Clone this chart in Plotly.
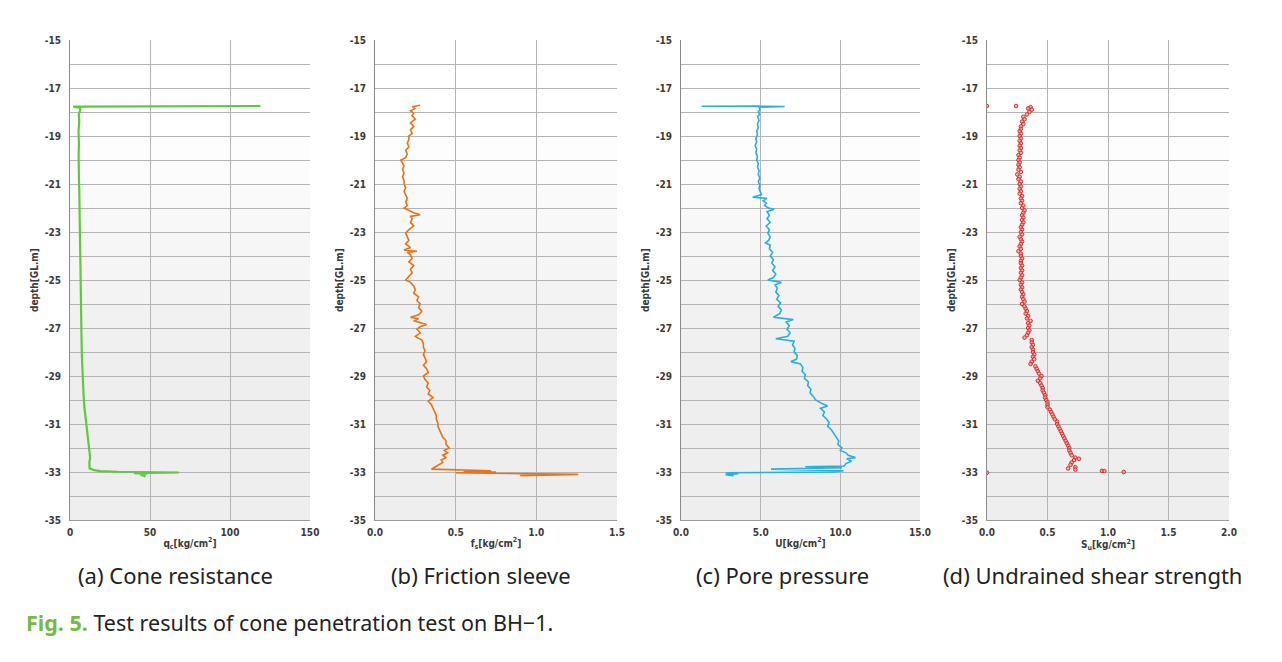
import plotly.graph_objects as go

# ---------------- data ----------------
depth_ticks = [-15, -17, -19, -21, -23, -25, -27, -29, -31, -33, -35]
depth_ticktext = ["-15", "-17", "-19", "-21", "-23", "-25", "-27", "-29", "-31", "-33", "-35"]

qc_depth = [-17.75, -17.75, -17.78, -17.82, -17.9, -18.1, -18.4, -18.8, -19.3, -19.8,
            -20.3, -20.8, -21.3, -21.8, -22.3, -22.8, -23.3, -23.8, -24.3, -24.8,
            -25.3, -25.8, -26.3, -26.8, -27.3, -27.8, -28.3, -28.8, -29.3, -29.8,
            -30.3, -30.8, -31.3, -31.8, -32.2, -32.4, -32.6, -32.85, -32.92, -32.96,
            -32.99, -33.02, -33.05, -33.08, -33.12, -33.16, -33.2]
qc_vals = [119, 60, 2, 6, 6.5, 5.5, 5.8, 5.3, 5.6, 5.4,
           5.7, 5.6, 5.8, 5.9, 6.0, 6.1, 6.0, 6.2, 6.3, 6.4,
           6.5, 6.6, 6.8, 6.9, 7.1, 7.3, 7.5, 7.7, 8.0, 8.5,
           9.0, 9.8, 10.6, 11.4, 12.0, 12.6, 12.1, 12.2, 15, 19,
           30, 68, 40, 48, 44, 47, 46]

fs_depth = [-17.72, -17.78, -17.85, -17.95, -18.05, -18.15, -18.3, -18.45, -18.6, -18.75,
            -18.9, -19.0, -19.15, -19.3, -19.45, -19.6, -19.75, -19.9, -20.0, -20.1,
            -20.25, -20.4, -20.55, -20.7, -20.85, -21.0, -21.15, -21.3, -21.45, -21.6,
            -21.75, -21.9, -22.0, -22.1, -22.2, -22.28, -22.35, -22.45, -22.6, -22.75,
            -22.9, -23.05, -23.2, -23.35, -23.5, -23.65, -23.75, -23.8, -23.85, -23.95,
            -24.1, -24.25, -24.4, -24.55, -24.7, -24.85, -25.0, -25.1, -25.25, -25.4,
            -25.55, -25.7, -25.85, -26.0, -26.15, -26.3, -26.45, -26.55, -26.62, -26.7,
            -26.78, -26.85, -26.95, -27.05, -27.2, -27.35, -27.5, -27.65, -27.8, -27.95,
            -28.1, -28.25, -28.4, -28.55, -28.7, -28.85, -29.0, -29.15, -29.3, -29.45,
            -29.6, -29.75, -29.9, -30.05, -30.2, -30.35, -30.5, -30.65, -30.8, -30.95,
            -31.1, -31.25, -31.4, -31.55, -31.7, -31.85, -32.0, -32.1, -32.2, -32.3,
            -32.4, -32.5, -32.6, -32.7, -32.8, -32.88, -32.95, -32.98, -33.0, -33.03,
            -33.1, -33.15]
fs_vals = [0.28, 0.23, 0.25, 0.22, 0.24, 0.23, 0.25, 0.22, 0.24, 0.22,
           0.23, 0.21, 0.21, 0.20, 0.21, 0.19, 0.20, 0.19, 0.16, 0.17,
           0.18, 0.17, 0.18, 0.17, 0.18, 0.18, 0.19, 0.18, 0.19, 0.20,
           0.19, 0.20, 0.18, 0.21, 0.24, 0.28, 0.22, 0.23, 0.22, 0.24,
           0.21, 0.19, 0.20, 0.21, 0.19, 0.22, 0.18, 0.26, 0.20, 0.22,
           0.23, 0.21, 0.24, 0.22, 0.23, 0.21, 0.19, 0.22, 0.24, 0.25,
           0.24, 0.27, 0.26, 0.28, 0.27, 0.29, 0.27, 0.22, 0.27, 0.24,
           0.29, 0.32, 0.28, 0.26, 0.28, 0.25, 0.29, 0.30, 0.30, 0.31,
           0.30, 0.31, 0.32, 0.30, 0.32, 0.33, 0.30, 0.31, 0.33, 0.32,
           0.34, 0.33, 0.36, 0.33, 0.35, 0.36, 0.37, 0.38, 0.38, 0.39,
           0.39, 0.40, 0.41, 0.42, 0.44, 0.44, 0.46, 0.43, 0.45, 0.42,
           0.44, 0.41, 0.42, 0.39, 0.37, 0.35, 0.72, 0.55, 0.75, 0.50,
           1.26, 0.90]

u_depth = [-17.75, -17.76, -17.77, -17.8, -17.9, -18.0, -18.1, -18.2, -18.35, -18.5,
           -18.65, -18.8, -18.95, -19.1, -19.25, -19.4, -19.55, -19.7, -19.85, -20.0,
           -20.15, -20.3, -20.45, -20.6, -20.75, -20.9, -21.05, -21.2, -21.35, -21.45,
           -21.55, -21.6, -21.7, -21.8, -21.9, -22.0, -22.05, -22.15, -22.3, -22.45,
           -22.6, -22.75, -22.9, -23.05, -23.2, -23.35, -23.45, -23.55, -23.7, -23.85,
           -24.0, -24.15, -24.3, -24.45, -24.6, -24.75, -24.9, -25.0, -25.1, -25.2,
           -25.35, -25.5, -25.65, -25.8, -25.95, -26.1, -26.25, -26.4, -26.55, -26.65,
           -26.75, -26.9, -27.05, -27.2, -27.35, -27.45, -27.55, -27.7, -27.85, -28.0,
           -28.15, -28.3, -28.4, -28.5, -28.65, -28.8, -28.95, -29.1, -29.25, -29.4,
           -29.55, -29.7, -29.85, -30.0, -30.15, -30.25, -30.35, -30.5, -30.65, -30.8,
           -30.95, -31.1, -31.25, -31.4, -31.55, -31.7, -31.85, -32.0, -32.1, -32.2,
           -32.3, -32.4, -32.45, -32.55, -32.65, -32.75, -32.78, -32.82, -32.88, -32.95,
           -33.0, -33.03, -33.07, -33.11, -33.15]
u_vals = [4.95, 1.3, 6.5, 4.9, 4.95, 4.85, 4.95, 4.8, 4.9, 4.8,
          4.85, 4.75, 4.8, 4.7, 4.75, 4.65, 4.75, 4.7, 4.8, 4.75,
          4.85, 4.8, 4.9, 4.85, 4.95, 4.85, 4.95, 4.9, 5.0, 5.05,
          4.5, 5.4, 5.15, 5.35, 5.25, 5.5, 5.85, 5.4, 5.55, 5.4,
          5.6, 5.35, 5.55, 5.45, 5.6, 5.5, 5.3, 5.6, 5.55, 5.75,
          5.6, 5.8, 5.7, 5.9, 5.75, 5.95, 5.8, 5.45, 6.3, 5.9,
          6.05, 5.95, 6.15, 6.0, 6.25, 6.1, 6.3, 6.2, 5.8, 7.05,
          6.6, 6.8, 6.65, 6.85, 6.7, 5.95, 7.1, 7.0, 7.15, 7.1,
          7.3, 7.25, 6.9, 7.5, 7.65, 7.6, 7.8, 7.75, 8.0, 7.95,
          8.15, 8.1, 8.3, 8.45, 8.85, 9.2, 8.75, 9.0, 8.9, 9.15,
          9.3, 9.2, 9.45, 9.6, 9.75, 9.9, 9.85, 10.1, 10.0, 10.35,
          10.5, 10.95, 10.4, 10.7, 10.35, 10.25, 7.8, 10.1, 5.65, 10.2,
          9.6, 2.8, 3.6, 2.8, 3.3]

su_depth = [-17.75, -17.75, -17.8, -17.85, -17.9, -18.0, -18.1, -18.2, -18.3, -18.4,
            -18.5, -18.6, -18.7, -18.8, -18.9, -19.0, -19.1, -19.2, -19.3, -19.4,
            -19.5, -19.6, -19.7, -19.8, -19.9, -20.0, -20.1, -20.2, -20.3, -20.4,
            -20.5, -20.6, -20.7, -20.8, -20.9, -21.0, -21.1, -21.2, -21.3, -21.4,
            -21.5, -21.6, -21.7, -21.8, -21.9, -22.0, -22.1, -22.2, -22.3, -22.4,
            -22.5, -22.6, -22.7, -22.8, -22.9, -23.0, -23.1, -23.2, -23.3, -23.4,
            -23.5, -23.6, -23.7, -23.8, -23.9, -24.0, -24.1, -24.2, -24.3, -24.4,
            -24.5, -24.6, -24.7, -24.8, -24.9, -25.0, -25.1, -25.2, -25.3, -25.4,
            -25.5, -25.6, -25.7, -25.8, -25.9, -26.0, -26.1, -26.2, -26.3, -26.4,
            -26.5, -26.6, -26.7, -26.8, -26.9, -27.0, -27.1, -27.2, -27.3, -27.4,
            -27.5, -27.6, -27.7, -27.8, -27.9, -28.0, -28.1, -28.2, -28.3, -28.4,
            -28.5, -28.6, -28.7, -28.8, -28.9, -29.0, -29.1, -29.2, -29.3, -29.4,
            -29.5, -29.6, -29.7, -29.8, -29.9, -30.0, -30.1, -30.2, -30.3, -30.4,
            -30.5, -30.6, -30.7, -30.8, -30.9, -31.0, -31.1, -31.2, -31.3, -31.4,
            -31.5, -31.6, -31.7, -31.8, -31.9, -32.0, -32.1, -32.2, -32.3, -32.4,
            -32.45, -32.5, -32.6, -32.7, -32.8, -32.85, -32.9, -32.95, -32.96, -33.0,
            -33.03]
su_vals = [0.0, 0.24, 0.36, 0.34, 0.37, 0.35, 0.33, 0.30, 0.31, 0.29,
           0.30, 0.28, 0.28, 0.27, 0.28, 0.27, 0.28, 0.27, 0.28, 0.27,
           0.28, 0.27, 0.28, 0.26, 0.27, 0.26, 0.27, 0.26, 0.27, 0.26,
           0.28, 0.25, 0.27, 0.26, 0.28, 0.27, 0.28, 0.27, 0.28, 0.27,
           0.29, 0.28, 0.29, 0.28, 0.30, 0.29, 0.31, 0.30, 0.29, 0.30,
           0.29, 0.30, 0.29, 0.28, 0.29, 0.28, 0.29, 0.27, 0.28, 0.29,
           0.28, 0.27, 0.28, 0.26, 0.28, 0.28, 0.29, 0.28, 0.28, 0.29,
           0.28, 0.29, 0.28, 0.29, 0.28, 0.27, 0.29, 0.28, 0.29, 0.28,
           0.29, 0.30, 0.29, 0.30, 0.31, 0.29, 0.31, 0.32, 0.33, 0.32,
           0.34, 0.33, 0.36, 0.34, 0.35, 0.34, 0.35, 0.34, 0.33, 0.31,
           0.37, 0.37, 0.38, 0.37, 0.38, 0.38, 0.39, 0.38, 0.39, 0.37,
           0.36, 0.40, 0.41, 0.42, 0.43, 0.45, 0.44, 0.42, 0.44, 0.45,
           0.46, 0.46, 0.47, 0.48, 0.48, 0.49, 0.50, 0.50, 0.50, 0.52,
           0.53, 0.54, 0.55, 0.56, 0.58, 0.58, 0.59, 0.60, 0.61, 0.62,
           0.63, 0.64, 0.65, 0.66, 0.67, 0.68, 0.68, 0.69, 0.70, 0.73,
           0.76, 0.72, 0.70, 0.69, 0.73, 0.67, 0.73, 0.95, 0.97, 1.13,
           0.0]

panels = [
    dict(x=qc_vals, y=qc_depth, color="#5ec93f", mode="lines", width=2.2,
         rng=[0, 150], tickvals=[0, 50, 100, 150], ticktext=["0", "50", "100", "150"],
         xtitle="q<sub>c</sub>[kg/cm<sup>2</sup>]", left=70, right=310,
         caption="(a) Cone resistance", cap_x=175),
    dict(x=fs_vals, y=fs_depth, color="#e8731c", mode="lines", width=1.6,
         rng=[0, 1.5], tickvals=[0, 0.5, 1.0, 1.5], ticktext=["0.0", "0.5", "1.0", "1.5"],
         xtitle="f<sub>s</sub>[kg/cm<sup>2</sup>]", left=375, right=617,
         caption="(b) Friction sleeve", cap_x=481),
    dict(x=u_vals, y=u_depth, color="#28afdf", mode="lines", width=1.6,
         rng=[0, 15], tickvals=[0, 5, 10, 15], ticktext=["0.0", "5.0", "10.0", "15.0"],
         xtitle="U[kg/cm<sup>2</sup>]", left=681, right=920,
         caption="(c) Pore pressure", cap_x=782),
    dict(x=su_vals, y=su_depth, color="#d0312d", mode="markers", width=1,
         rng=[0, 2.0], tickvals=[0, 0.5, 1.0, 1.5, 2.0], ticktext=["0.0", "0.5", "1.0", "1.5", "2.0"],
         xtitle="S<sub>u</sub>[kg/cm<sup>2</sup>]", left=987, right=1229,
         caption="(d) Undrained shear strength", cap_x=1092),
]

W, H = 1282, 662
TOP, BOT = 40, 520
tick_font = dict(family="Liberation Sans Narrow, DejaVu Sans Condensed, Arial Narrow, sans-serif",
                 size=10, color="#3a3a3a", weight="bold")
grid = "#b4b4b4"

fig = go.Figure()
layout = dict(width=W, height=H, autosize=False, margin=dict(l=0, r=0, t=0, b=0, pad=0),
              paper_bgcolor="white", plot_bgcolor="rgba(0,0,0,0)",
              showlegend=False, annotations=[], shapes=[])

for i, p in enumerate(panels):
    n = "" if i == 0 else str(i + 1)
    xa, ya = "x" + n, "y" + n
    if p["mode"] == "lines":
        fig.add_trace(go.Scatter(x=p["x"], y=p["y"], mode="lines", xaxis=xa, yaxis=ya,
                                 line=dict(color=p["color"], width=p["width"]),
                                 hoverinfo="skip"))
    else:
        fig.add_trace(go.Scatter(x=p["x"], y=p["y"], mode="markers", xaxis=xa, yaxis=ya,
                                 marker=dict(symbol="circle", size=3.6, color="rgba(235,150,150,0.7)",
                                             line=dict(color=p["color"], width=1)),
                                 hoverinfo="skip"))
    layout["xaxis" + n] = dict(domain=[p["left"] / W, p["right"] / W], anchor=ya,
                               automargin=False,
                               range=p["rng"], tickvals=p["tickvals"], ticktext=p["ticktext"],
                               showgrid=True, gridcolor=grid, gridwidth=1, zeroline=False,
                               showline=True, linecolor="#9a9a9a", mirror=False,
                               ticks="", tickfont=tick_font, ticklabelstandoff=3,
                               title=dict(text=p["xtitle"], standoff=2,
                                          font=dict(family=tick_font["family"], size=10,
                                                    color="#3a3a3a", weight="bold")))
    layout["yaxis" + n] = dict(domain=[1 - BOT / H, 1 - TOP / H], anchor=xa,
                               automargin=False,
                               range=[-35, -15], tickvals=depth_ticks, ticktext=depth_ticktext,
                               showgrid=True, gridcolor=grid, gridwidth=1, zeroline=False,
                               showline=True, linecolor="#8a8a8a",
                               ticks="", tickfont=tick_font, ticklabelstandoff=6,
                               minor=dict(tickmode="linear", tick0=-35, dtick=1, showgrid=True,
                                          gridcolor=grid, gridwidth=1))
    # background gradient bands (white at top -> light grey lower down)
    for k in range(20):
        t = min(1.0, max(0.0, (k - 3) / 10.0))
        g = int(round(255 - 17 * t))
        layout["shapes"].append(dict(type="rect", xref=xa + " domain", yref=ya,
                                     x0=0, x1=1, y0=-15 - k, y1=-16 - k, layer="below",
                                     line=dict(width=0), fillcolor=f"rgb({g},{g},{g})"))
    layout["annotations"].append(dict(text="depth[GL.m]", textangle=-90, showarrow=False,
                                      xref="paper", yref="paper",
                                      x=(p["left"] - 36) / W, y=1 - 280 / H,
                                      xanchor="center", yanchor="middle",
                                      font=dict(family=tick_font["family"], size=10,
                                                color="#3a3a3a", weight="bold")))
    layout["annotations"].append(dict(text=p["caption"], showarrow=False,
                                      xref="paper", yref="paper", x=p["cap_x"] / W, y=1 - 575 / H,
                                      xanchor="center", yanchor="middle",
                                      font=dict(family="Noto Sans, sans-serif", size=22, color="#222222")))

layout["annotations"].append(dict(
    text="<b><span style='color:#78b844'>Fig. 5.</span></b> Test results of cone penetration test on BH\u22121.",
    showarrow=False, xref="paper", yref="paper", x=24 / W, y=1 - 622 / H,
    xanchor="left", yanchor="middle",
    font=dict(family="Noto Sans, sans-serif", size=21.5, color="#222222")))

fig.update_layout(**layout)
fig.write_html("out.html", config={"displayModeBar": False},
               post_script="document.body.style.margin='0px';")
